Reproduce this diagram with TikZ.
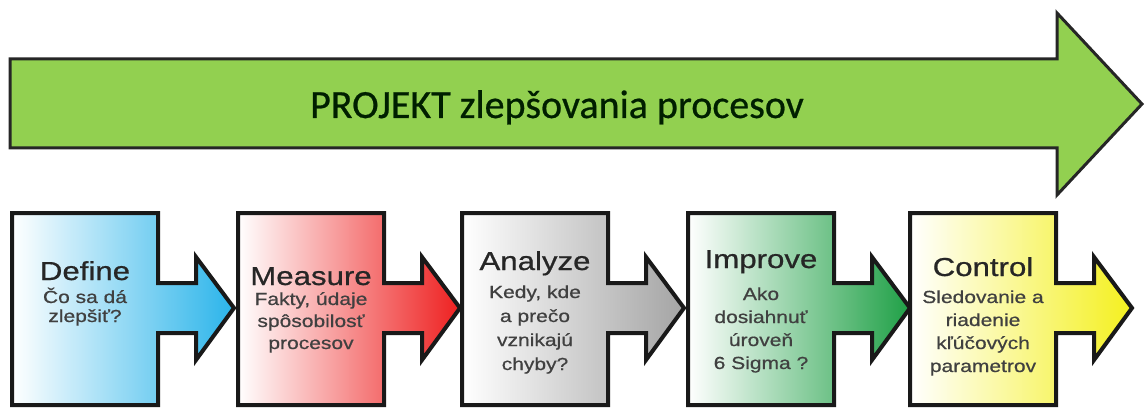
\documentclass[tikz,border=0pt]{standalone}
\usepackage{fontspec}
\setmainfont{Liberation Sans}
\newfontfamily\bannerfont[FakeBold=0.6]{Carlito}
\newfontfamily\stagefont[FakeStretch=1.2,FakeBold=0.7]{Liberation Sans}
\usetikzlibrary{positioning}

\definecolor{bannergreen}{HTML}{92D050}
\definecolor{defblue}{HTML}{2AB4EA}
\definecolor{measred}{HTML}{EE2020}
\definecolor{anagray}{HTML}{A4A4A4}
\definecolor{impgreen}{HTML}{1FA046}
\definecolor{ctrlyellow}{HTML}{F4F01E}

\begin{document}
\begin{tikzpicture}[
            x=1pt, y=-1pt,
            banner/.style={draw=black!85, line width=3pt, fill=bannergreen},
            stage/.style={draw=black!90, line width=4pt},
            ttl/.style={font=\stagefont\fontsize{26}{28}\selectfont, text=black!85, inner sep=0pt},
            lbl/.style={text=black!75, inner sep=0pt, align=center}
        ]
\useasboundingbox (0,0) rectangle (1146,409);
% project arrow on top
            \draw[banner] (10,59) -- (1057,59) -- (1057,13) -- (1142,104)
                -- (1057,195) -- (1057,148) -- (10,148) -- cycle;
            \node[font=\bannerfont\fontsize{40}{44}\selectfont, text=black!80!green!60!black,
                anchor=base] (proj) at (557,118) {PROJEKT zlepšovania procesov};
% DMAIC stages, box with arrow (\sb = baseline of last text line)
            \foreach \L/\col/\ttl/\tb/\sb/\sk/\txt in {
                12/defblue/Define/280/322/19/{Čo sa dá\\zlepšiť?},
                238/measred/Measure/285/349/22/{Fakty, údaje\\spôsobilosť\\procesov},
                462/anagray/Analyze/270/370/24/{Kedy, kde\\a prečo\\vznikajú\\chyby?},
                688/impgreen/Improve/268/369/23/{Ako\\dosiahnuť\\úroveň\\6 Sigma ?},
                910/ctrlyellow/Control/276/372/23/{Sledovanie a\\riadenie\\kľúčových\\parametrov}} {
                \draw[stage, left color=white, right color=\col]
                    (\L,213) -- ++(146,0) -- ++(0,70) -- ++(38,0) -- ++(0,-26)
                    -- ++(38,51) -- ++(-38,52) -- ++(0,-27) -- ++(-38,0)
                    -- ++(0,72) -- ++(-146,0) -- cycle;
                \node[ttl, anchor=base] (\ttl) at (\L+73,\tb) {\ttl};
                \node[lbl, anchor=base, font=\stagefont\fontsize{17.5}{\sk}\selectfont]
                    (\ttl-txt) at (\L+73,\sb) {\txt};
            }
        \end{tikzpicture}
\end{document}
